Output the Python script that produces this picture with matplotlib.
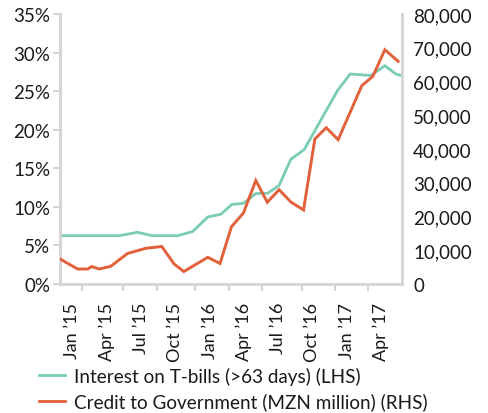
import matplotlib
matplotlib.use("Agg")
import matplotlib.pyplot as plt
from matplotlib.ticker import FixedLocator, FuncFormatter
from matplotlib.lines import Line2D

plt.rcParams['font.family'] = ['Lato', 'DejaVu Sans']

# x values: months since Jan 2015
tbill_month = [-1.09, 4.05, 5.69, 7.0, 9.22, 10.53, 11.85, 12.99, 13.95, 14.97,
               16.05, 17.08, 18.09, 19.12, 20.28, 23.2, 24.31, 26.12, 27.35, 28.31, 29.0]
tbill_rate = [6.26, 6.26, 6.70, 6.26, 6.26, 6.81, 8.69, 9.04, 10.31, 10.46,
              11.73, 11.76, 12.77, 16.17, 17.41, 25.06, 27.22, 27.03, 28.3, 27.22, 26.93]

credit_month = [-1.09, 0.46, 1.34, 1.69, 2.33, 3.35, 4.82, 6.42, 7.82, 8.90, 9.75,
                11.85, 12.92, 13.92, 14.97, 16.05, 17.06, 18.09, 19.12, 20.23,
                21.22, 22.22, 23.26, 25.33, 26.30, 27.35, 28.51]
credit_value = [7410, 4440, 4440, 5190, 4440, 5240, 9040, 10580, 11110, 5930, 3700,
                7910, 6070, 16980, 21040, 30670, 24210, 27940, 24300, 21930,
                42960, 46310, 42760, 58760, 61540, 69420, 65990]

xtick_labels = ["Jan \u201915", "Apr \u201915", "Jul \u201915", "Oct \u201915", "Jan \u201916",
                "Apr \u201916", "Jul \u201916", "Oct \u201916", "Jan \u201917", "Apr \u201917"]
xtick_months = [0, 3, 6, 9, 12, 15, 18, 21, 24, 27]

left_ticks = [0, 5, 10, 15, 20, 25, 30, 35]
right_ticks = [0, 10000, 20000, 30000, 40000, 50000, 60000, 70000, 80000]

series_names = ["Interest on T-bills (>63 days) (LHS)",
                "Credit to Government (MZN million) (RHS)"]

GREEN = "#7ACDB2"
ORANGE = "#E2603A"
GRID = "#D4D4D4"
TXT = "#1A1A1A"

fig = plt.figure(figsize=(4.88, 4.14), dpi=100)
ax = fig.add_axes([60/488, 1-285/414, (402-60)/488, 270/414])
ax2 = ax.twinx()

ax.plot(tbill_month, tbill_rate, color=GREEN, lw=2.0, solid_joinstyle='miter', zorder=2)
ax2.plot(credit_month, credit_value, color=ORANGE, lw=2.1, solid_joinstyle='miter', zorder=3)

ax.set_xlim(-1.09, 28.85)
ax.set_ylim(0, 35)
ax2.set_ylim(0, 80000)

for a in (ax, ax2):
    for s in a.spines.values():
        s.set_visible(False)
ax.spines['left'].set_visible(True)
ax.spines['bottom'].set_visible(True)
ax2.spines['right'].set_visible(True)
for s in (ax.spines['left'], ax.spines['bottom'], ax2.spines['right']):
    s.set_color(GRID)
    s.set_linewidth(2)

ax.yaxis.set_major_locator(FixedLocator(left_ticks))
ax.yaxis.set_major_formatter(FuncFormatter(lambda v, p: f"{int(v)}%"))
ax.tick_params(axis='y', length=5, width=1.5, color=GRID, labelsize=13.5, labelcolor=TXT, pad=2)

ax2.yaxis.set_major_locator(FixedLocator(right_ticks))
ax2.yaxis.set_major_formatter(FuncFormatter(lambda v, p: f"{int(v):,}"))
ax2.tick_params(axis='y', length=0, labelsize=13.5, labelcolor=TXT, pad=8)

ax.xaxis.set_major_locator(FixedLocator(xtick_months))
ax.set_xticklabels(xtick_labels, rotation=90, ha='center', va='top')
ax.tick_params(axis='x', which='major', length=0, labelsize=13, labelcolor=TXT, pad=13)
ax.xaxis.set_minor_locator(FixedLocator([0.8, 4.4, 7.4, 10.7, 13.7, 16.6, 20.1, 23.0, 25.9]))
ax.tick_params(axis='x', which='minor', length=5, width=1.5, color=GRID)

handles = [Line2D([], [], color=GREEN, lw=2), Line2D([], [], color=ORANGE, lw=2)]
fig.legend(handles, series_names, loc='upper left', bbox_to_anchor=(39/488, 1-368/414),
           frameon=False, fontsize=13.6, handlelength=1.4, handletextpad=0.45,
           labelspacing=0.4, borderaxespad=0, borderpad=0, labelcolor=TXT)

fig.savefig("out.png", dpi=100)
